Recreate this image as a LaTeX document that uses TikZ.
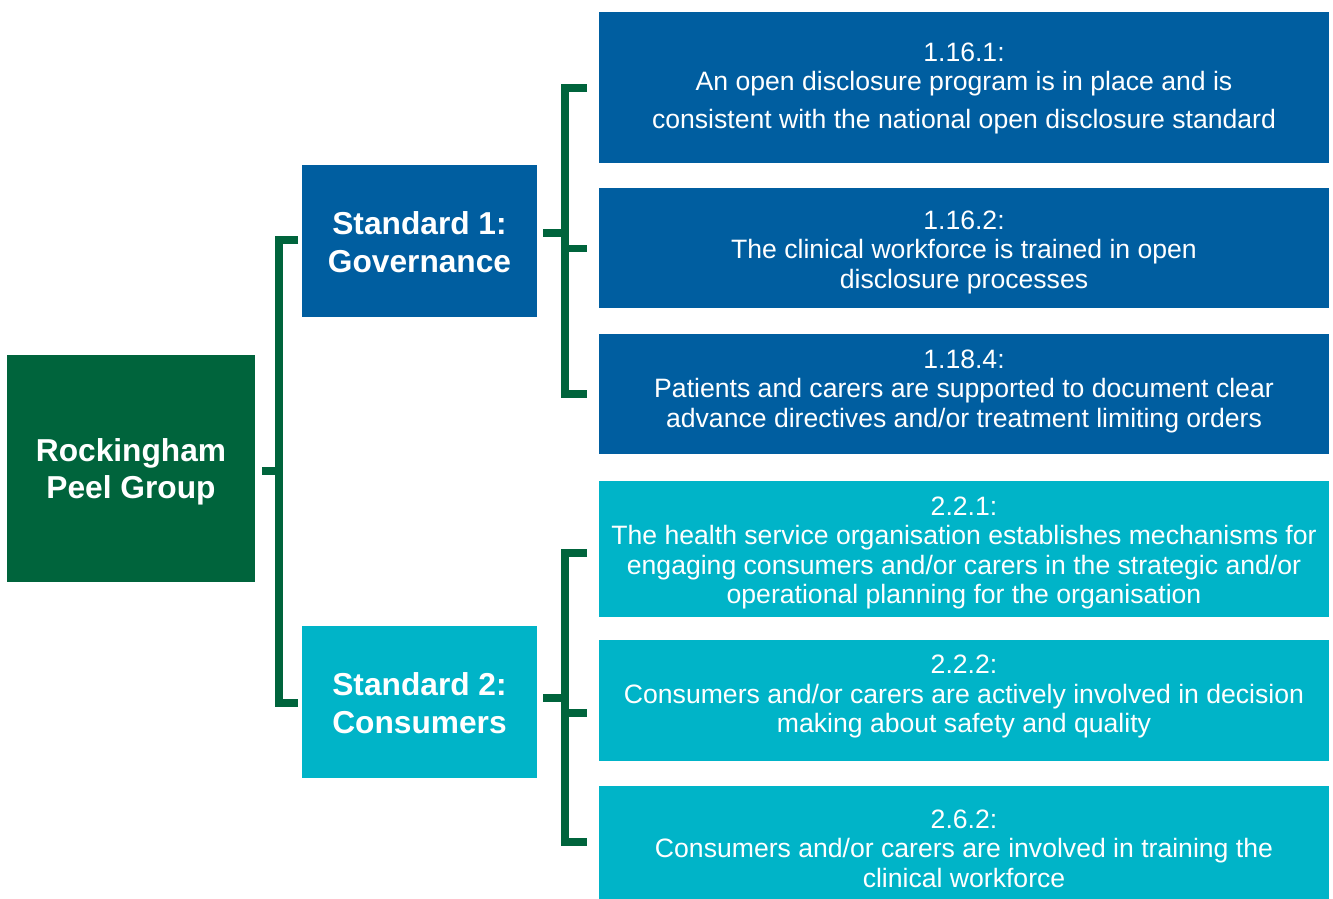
\documentclass[tikz,border=0pt]{standalone}
\usepackage{fontspec}
\setmainfont{Liberation Sans}
\definecolor{rpgreen}{RGB}{0,100,60}
\definecolor{rpblue}{RGB}{0,94,160}
\definecolor{rpteal}{RGB}{0,180,200}
\begin{document}
\begin{tikzpicture}[x=1pt,y=-1pt,
  box/.style={rectangle, inner sep=0pt, outer sep=0pt},
  txt/.style={inner sep=0pt, text=white, align=center},
  dtxt/.style={txt, font=\fontsize{26.6}{29.5}\selectfont},
  btxt/.style={txt, font=\fontsize{31.7}{38}\selectfont\bfseries},
  detail/.style={box, minimum width=730pt},
  std/.style={box, minimum width=235pt, minimum height=152pt},
  brk/.style={draw=rpgreen, line width=7.5pt, line join=miter, line cap=butt}]
\useasboundingbox (0,0) rectangle (1333,899);

% root
\node[box, fill=rpgreen, minimum width=248pt, minimum height=227pt] (root) at (131,468.5) {};
\node[btxt, font=\fontsize{31.7}{37}\selectfont\bfseries] (roott) at ([yshift=-3pt]root.center) {Rockingham\\Peel Group};

% standards
\node[std, fill=rpblue] (s1) at (419.5,241) {};
\node[btxt] (s1t) at ([yshift=-1pt]s1.center) {Standard 1:\\Governance};
\node[std, fill=rpteal] (s2) at (419.5,702) {};
\node[btxt] (s2t) at ([yshift=-1pt]s2.center) {Standard 2:\\Consumers};

% details
\node[detail, fill=rpblue, minimum height=151pt] (d1) at (964,87.5) {};
\node[dtxt] (d1t) at ([yshift=-1pt]d1.center)
  {1.16.1:\\An open disclosure program is in place and is\\[8.5pt]consistent with the national open disclosure standard};
\node[detail, fill=rpblue, minimum height=120pt] (d2) at (964,248) {};
\node[dtxt] (d2t) at ([yshift=-4pt]d2.center)
  {1.16.2:\\The clinical workforce is trained in open\\disclosure processes};
\node[detail, fill=rpblue, minimum height=120pt] (d3) at (964,394) {};
\node[dtxt] (d3t) at ([yshift=3pt]d3.center)
  {1.18.4:\\Patients and carers are supported to document clear\\advance directives and/or treatment limiting orders};
\node[detail, fill=rpteal, minimum height=136pt] (d4) at (964,549) {};
\node[dtxt] (d4t) at ([yshift=-4pt]d4.center)
  {2.2.1:\\The health service organisation establishes mechanisms for\\engaging consumers and/or carers in the strategic and/or\\operational planning for the organisation};
\node[detail, fill=rpteal, minimum height=121pt] (d5) at (964,700.5) {};
\node[dtxt] (d5t) at ([yshift=4pt]d5.center)
  {2.2.2:\\Consumers and/or carers are actively involved in decision\\making about safety and quality};
\node[detail, fill=rpteal, minimum height=113pt] (d6) at (964,842.5) {};
\node[dtxt] (d6t) at ([yshift=-6pt]d6.center)
  {2.6.2:\\Consumers and/or carers are involved in training the\\clinical workforce};

% root bracket
\coordinate (rJ) at (279,471);
\coordinate (rT) at (298,240);
\coordinate (rB) at (298,703);
\draw[brk] (rT) -- (rT -| rJ) -- (rB -| rJ) -- (rB);
\draw[brk] (root.east) ++(7,2.5) -- (rJ);

% standard 1 bracket
\coordinate (aJ) at (565,233);
\coordinate (aT) at (587,88);
\coordinate (aM) at (587,248.5);
\coordinate (aB) at (587,394);
\draw[brk] (aT) -- (aT -| aJ) -- (aB -| aJ) -- (aB);
\draw[brk] (aM -| aJ) -- (aM);
\draw[brk] (s1.east) ++(6,-8) -- (aJ);

% standard 2 bracket
\coordinate (bJ) at (565,698);
\coordinate (bT) at (587,553);
\coordinate (bM) at (587,713);
\coordinate (bB) at (587,842);
\draw[brk] (bT) -- (bT -| bJ) -- (bB -| bJ) -- (bB);
\draw[brk] (bM -| bJ) -- (bM);
\draw[brk] (s2.east) ++(6,-4) -- (bJ);
\end{tikzpicture}
\end{document}
